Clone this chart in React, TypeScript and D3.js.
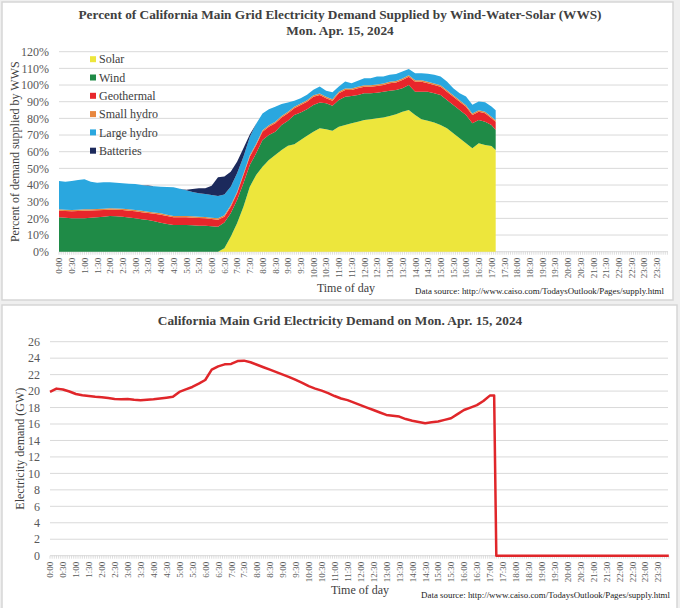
import React, { useEffect, useRef } from 'react'
import * as d3 from 'd3'

// sample times (every 15 min until the data stops)
const times = [
  '0:00', '0:15', '0:30', '0:45', '1:00', '1:15', '1:30', '1:45',
  '2:00', '2:15', '2:30', '2:45', '3:00', '3:15', '3:30', '3:45',
  '4:00', '4:15', '4:30', '4:45', '5:00', '5:15', '5:30', '5:45',
  '6:00', '6:15', '6:30', '6:45', '7:00', '7:15', '7:30', '7:45',
  '8:00', '8:15', '8:30', '8:45', '9:00', '9:15', '9:30', '9:45',
  '10:00', '10:15', '10:30', '10:45', '11:00', '11:15', '11:30', '11:45',
  '12:00', '12:15', '12:30', '12:45', '13:00', '13:15', '13:30', '13:45',
  '14:00', '14:15', '14:30', '14:45', '15:00', '15:15', '15:30', '15:45',
  '16:00', '16:15', '16:30', '16:45', '17:00', '17:10'
]

// percent of demand
const solar = [
  0, 0, 0, 0, 0, 0, 0, 0,
  0, 0, 0, 0, 0, 0, 0, 0,
  0, 0, 0, 0, 0, 0, 0, 0,
  0, 0, 2, 9, 17, 27, 39, 46,
  51, 55, 58, 61, 63.5, 64.5, 67, 69.5,
  72, 74, 73.5, 72.5, 75, 76, 77, 78,
  79, 79.5, 80, 80.5, 81.4, 82.5, 84, 85,
  82, 79.4, 78.6, 77.5, 76, 74, 71, 68,
  65, 62, 65, 64, 63.4, 61
]
const wind = [
  20.6, 20.3, 20.0, 20.0, 20.0, 20.3, 20.6, 21.0,
  21.4, 21.2, 21.0, 20.5, 20.0, 19.5, 19.0, 18.2,
  17.4, 16.6, 16.0, 16.0, 16.0, 15.8, 15.6, 15.5,
  15.2, 15.0, 15.5, 14, 14, 14, 13, 13,
  16, 15, 14, 15, 15, 17.5, 16.5, 16,
  16, 15.5, 15.5, 15, 16, 17, 16.4, 16,
  16, 15.5, 15.4, 15.5, 15.2, 14.5, 14, 15,
  14, 16.6, 17.4, 17.5, 18, 17, 17, 17,
  17, 15, 14, 14, 12.6, 12
]
const geothermal = [
  4.0, 4.1, 4.2, 4.4, 4.6, 4.4, 4.2, 4.0,
  3.8, 3.9, 4.0, 4.1, 4.2, 4.2, 4.2, 4.5,
  4.8, 4.8, 4.6, 4.6, 4.6, 4.6, 4.6, 4.5,
  4.4, 4.2, 3.5, 4, 4, 5, 5, 5,
  5, 5, 5, 4.5, 4.5, 4, 4.5, 4.5,
  5, 4.5, 3, 3, 4, 4, 3.6, 4,
  4, 4, 4, 4, 4.4, 4.5, 5, 5,
  6, 6, 5, 5, 5, 5, 5, 5,
  5, 5, 5, 5, 4, 5
]
const smallHydro = [
  0.8, 0.8, 0.8, 0.8, 0.8, 0.8, 0.8, 0.8,
  0.8, 0.8, 0.8, 0.8, 0.8, 0.8, 0.8, 0.8,
  0.8, 0.8, 0.8, 0.8, 0.8, 0.8, 0.8, 0.8,
  0.8, 0.8, 0.8, 0.8, 0.8, 0.8, 0.8, 0.8,
  0.9, 0.9, 0.9, 0.9, 0.9, 0.9, 0.9, 0.9,
  0.9, 0.9, 0.9, 0.9, 0.9, 0.9, 0.9, 0.9,
  0.9, 0.9, 0.9, 0.9, 0.9, 0.9, 0.9, 0.9,
  0.9, 0.9, 0.9, 0.9, 0.9, 0.9, 0.9, 0.9,
  0.9, 0.9, 0.9, 0.9, 0.9, 0.9
]
const largeHydro = [
  17.0, 16.8, 17.4, 17.8, 18.0, 16.5, 15.8, 15.8,
  15.6, 15.4, 15.2, 15.4, 15.6, 15.5, 15.4, 15.7,
  16.0, 16.6, 17.2, 16.4, 15.4, 14.6, 14.0, 13.8,
  13.6, 13.4, 12.5, 11.2, 11.2, 10.2, 11, 12,
  10, 9.5, 9, 7.2, 5.6, 3.7, 3.2, 3.2,
  3.2, 4.2, 3.7, 4.2, 3.2, 4.2, 3.2, 3.7,
  4.2, 4.2, 4.8, 4.2, 4.2, 4.2, 4.2, 3.7,
  4.2, 4.2, 4.8, 5.2, 5.2, 5.2, 4.2, 4.2,
  5.2, 5.2, 5.2, 5.7, 6.2, 6
]
const batteries = [
  0, 0, 0, 0, 0, 0, 0, 0,
  0, 0, 0, 0, 0, 0, 0.3, 0,
  0, 0, 0, 0, 0.4, 1.8, 3.0, 3.4,
  5.5, 11.2, 10.8, 9, 7, 5, 1.5, 0,
  0, 0, 0, 0, 0, 0, 0, 0,
  0, 0, 0, 0, 0, 0, 0, 0,
  0, 0, 0, 0, 0, 0, 0, 0,
  0, 0, 0, 0, 0, 0, 0, 0,
  0, 0, 0, 0, 0, 0
]

// demand (GW), the feed is empty (0) after 17:10
const demandTimes = [...times, '17:15', '23:55']
const demand = [
  19.9, 20.3, 20.2, 19.95, 19.65, 19.5, 19.4, 19.3,
  19.25, 19.15, 19.05, 19.0, 19.05, 18.95, 18.9, 18.95,
  19.0, 19.1, 19.2, 19.3, 19.9, 20.2, 20.5, 20.9,
  21.35, 22.6, 23.0, 23.25, 23.3, 23.65, 23.7, 23.5,
  23.2, 22.9, 22.6, 22.3, 22.0, 21.7, 21.35, 21.0,
  20.6, 20.3, 20.05, 19.75, 19.4, 19.1, 18.9, 18.6,
  18.3, 18.0, 17.7, 17.4, 17.1, 17.0, 16.9, 16.6,
  16.4, 16.25, 16.1, 16.2, 16.3, 16.5, 16.7, 17.2,
  17.7, 18.0, 18.3, 18.8, 19.45, 19.45,
  0, 0
]

const tickLabels = [
  '0:00', '0:30', '1:00', '1:30', '2:00', '2:30', '3:00', '3:30',
  '4:00', '4:30', '5:00', '5:30', '6:00', '6:30', '7:00', '7:30',
  '8:00', '8:30', '9:00', '9:30', '10:00', '10:30', '11:00', '11:30',
  '12:00', '12:30', '13:00', '13:30', '14:00', '14:30', '15:00', '15:30',
  '16:00', '16:30', '17:00', '17:30', '18:00', '18:30', '19:00', '19:30',
  '20:00', '20:30', '21:00', '21:30', '22:00', '22:30', '23:00', '23:30'
]
const pctTicks = [0, 10, 20, 30, 40, 50, 60, 70, 80, 90, 100, 110, 120]
const gwTicks = [0, 2, 4, 6, 8, 10, 12, 14, 16, 18, 20, 22, 24, 26]

const seriesNames = ['Solar', 'Wind', 'Geothermal', 'Small hydro', 'Large hydro', 'Batteries']
const seriesColors = ['#ede63c', '#1f8b47', '#e8262b', '#e8873e', '#2aa7df', '#1c2a5c']

const FONT = '"Liberation Serif", "Times New Roman", serif'
const toMin = (t: string) => {
  const [h, m] = t.split(':').map(Number)
  return h * 60 + m
}

const App: React.FC = () => {
  const svgRef = useRef<SVGSVGElement>(null)

  useEffect(() => {
    const svg = d3.select(svgRef.current)
    svg.selectAll('*').remove()
    svg.attr('width', 680).attr('height', 608).style('font-family', FONT)

    // background + panels
    svg.append('rect').attr('width', 680).attr('height', 608).attr('fill', '#efefef')
    svg.append('rect').attr('x', 2).attr('y', 2).attr('width', 671).attr('height', 298)
      .attr('fill', '#fff').attr('stroke', '#d6d6d6').attr('stroke-width', 1.5)
    svg.append('rect').attr('x', 2).attr('y', 305).attr('width', 675).attr('height', 305)
      .attr('fill', '#fff').attr('stroke', '#d6d6d6').attr('stroke-width', 1.5)

    // shared bits for both panels
    const drawFrame = (
      x: d3.ScaleLinear<number, number>,
      y: d3.ScaleLinear<number, number>,
      yTicks: number[],
      fmt: (d: number) => string,
      yTitle: string,
      yTitleX: number,
      xTitleX: number,
      xTitleY: number,
      srcX: number,
      srcY: number
    ) => {
      const g = svg.append('g')
      const [x0] = x.range()
      // gridlines
      g.selectAll('.grid')
        .data(yTicks)
        .enter()
        .append('line')
        .attr('x1', x0)
        .attr('x2', 668)
        .attr('y1', d => y(d))
        .attr('y2', d => y(d))
        .attr('stroke', '#d9d9d9')
        .attr('stroke-width', 1)

      // small category ticks under the axis
      g.selectAll('.minor')
        .data(d3.range(0, 1440, 5))
        .enter()
        .append('line')
        .attr('x1', d => x(d))
        .attr('x2', d => x(d))
        .attr('y1', y(0))
        .attr('y2', y(0) + 3)
        .attr('stroke', '#c8c8c8')
        .attr('stroke-width', 0.6)

      // y labels
      g.selectAll('.ylab')
        .data(yTicks)
        .enter()
        .append('text')
        .attr('x', x0 - 10)
        .attr('y', d => y(d))
        .attr('dy', '0.35em')
        .attr('text-anchor', 'end')
        .attr('font-size', 12)
        .attr('fill', '#595959')
        .text(fmt)

      // x labels (rotated)
      const xAxis = d3.axisBottom(x)
        .tickValues(tickLabels.map(toMin))
        .tickFormat((_, i) => tickLabels[i])
        .tickSize(0)
      const ax = g.append('g')
        .attr('transform', `translate(0,${y(0)})`)
        .call(xAxis)
      ax.select('.domain').remove()
      ax.selectAll('text')
        .attr('transform', 'rotate(-90)')
        .attr('text-anchor', 'end')
        .attr('x', -6)
        .attr('y', 0)
        .attr('dy', '0.32em')
        .attr('font-size', 9)
        .attr('font-family', FONT)
        .attr('fill', '#595959')

      g.append('text')
        .attr('transform', `translate(${yTitleX},${(y.range()[0] + y.range()[1]) / 2}) rotate(-90)`)
        .attr('text-anchor', 'middle')
        .attr('font-size', 12)
        .attr('fill', '#404040')
        .text(yTitle)

      g.append('text')
        .attr('x', xTitleX)
        .attr('y', xTitleY)
        .attr('text-anchor', 'middle')
        .attr('font-size', 12)
        .attr('fill', '#404040')
        .text('Time of day')

      g.append('text')
        .attr('x', srcX)
        .attr('y', srcY)
        .attr('text-anchor', 'end')
        .attr('font-size', 8.9)
        .attr('fill', '#1a1a1a')
        .text('Data source: http://www.caiso.com/TodaysOutlook/Pages/supply.html')
    }

    // ---------- top: stacked WWS share ----------
    const xTop = d3.scaleLinear().domain([0, 1435]).range([59, 667.4])
    const yTop = d3.scaleLinear().domain([0, 120]).range([251.7, 51.7])

    drawFrame(xTop, yTop, pctTicks, d => `${d}%`, 'Percent of demand supplied by WWS', 19, 346, 292, 664, 294)

    const rows = times.map((t, i) => ({
      t: toMin(t),
      Solar: solar[i],
      Wind: wind[i],
      Geothermal: geothermal[i],
      'Small hydro': smallHydro[i],
      'Large hydro': largeHydro[i],
      Batteries: batteries[i]
    }))
    const stacked = d3.stack<any>().keys(seriesNames)(rows)
    const area = d3.area<any>()
      .x(d => xTop(d.data.t))
      .y0(d => yTop(d[0]))
      .y1(d => yTop(d[1]))

    svg.append('g')
      .selectAll('path')
      .data(stacked)
      .enter()
      .append('path')
      .attr('d', area)
      .attr('fill', (_, i) => seriesColors[i])

    const legend = svg.append('g').attr('transform', 'translate(90,59.2)')
    seriesNames.forEach((name, i) => {
      legend.append('rect')
        .attr('x', 0)
        .attr('y', i * 18.3 - 3)
        .attr('width', 6)
        .attr('height', 6)
        .attr('fill', seriesColors[i])
      legend.append('text')
        .attr('x', 9)
        .attr('y', i * 18.3)
        .attr('dy', '0.35em')
        .attr('font-size', 12)
        .attr('fill', '#404040')
        .text(name)
    })

    svg.append('text')
      .attr('x', 340)
      .attr('y', 19)
      .attr('text-anchor', 'middle')
      .attr('font-size', 13.3)
      .attr('font-weight', 'bold')
      .attr('fill', '#404040')
      .text('Percent of California Main Grid Electricity Demand Supplied by Wind-Water-Solar (WWS)')
    svg.append('text')
      .attr('x', 340)
      .attr('y', 35)
      .attr('text-anchor', 'middle')
      .attr('font-size', 13.3)
      .attr('font-weight', 'bold')
      .attr('fill', '#404040')
      .text('Mon. Apr. 15, 2024')

    // ---------- bottom: demand ----------
    const xBot = d3.scaleLinear().domain([0, 1435]).range([50, 668.8])
    const yBot = d3.scaleLinear().domain([0, 26]).range([555.7, 341.7])

    drawFrame(xBot, yBot, gwTicks, d => `${d}`, 'Electricity demand (GW)', 24, 360, 594, 670, 598)

    const line = d3.line<number>()
      .x((_, i) => xBot(toMin(demandTimes[i])))
      .y(d => yBot(d))

    svg.append('path')
      .datum(demand)
      .attr('d', line)
      .attr('fill', 'none')
      .attr('stroke', '#e0262a')
      .attr('stroke-width', 2.5)
      .attr('stroke-linejoin', 'round')

    svg.append('text')
      .attr('x', 340)
      .attr('y', 325)
      .attr('text-anchor', 'middle')
      .attr('font-size', 13.3)
      .attr('font-weight', 'bold')
      .attr('fill', '#404040')
      .text('California Main Grid Electricity Demand on Mon. Apr. 15, 2024')
  }, [])

  return (
    <div style={{ position: 'absolute', left: 0, top: 0 }}>
      <svg ref={svgRef}></svg>
    </div>
  )
}

export default App
